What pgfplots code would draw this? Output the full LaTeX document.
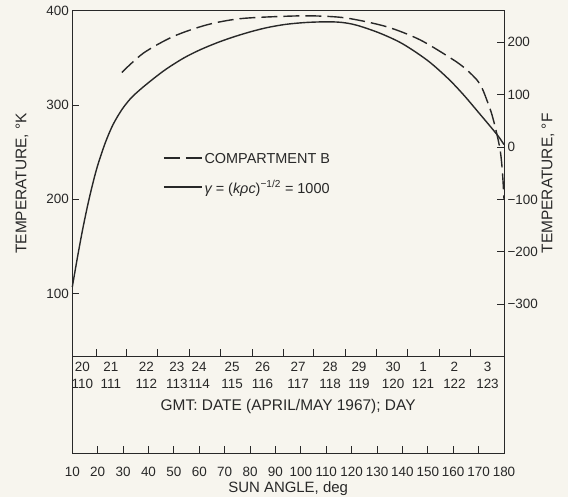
\documentclass[border=0pt]{standalone}
\usepackage{fontspec}
\setmainfont{Liberation Sans}
\usepackage{pgfplots}
\pgfplotsset{compat=1.18}

\definecolor{paper}{RGB}{247,245,238}
\definecolor{ink}{RGB}{40,40,40}

\pgfplotsset{
  panel/.style={
    scale only axis, anchor=south west, width=431.7bp,
    xmin=10, xmax=180, clip=false,
    axis line style={ink, line width=0.9bp},
    tick style={ink, line width=0.9bp},
    tick align=inside, major tick length=7bp,
    /pgf/number format/assume math mode=true,
    tick label style={text=ink, font=\fontsize{13.5}{17}\selectfont},
    label style={text=ink, font=\fontsize{15.5}{17}\selectfont},
  },
}

\begin{document}
\begin{tikzpicture}
\fill[paper] (0bp,0bp) rectangle (568bp,497bp);

% upper panel, kelvin scale, date ticks on its bottom edge
\begin{axis}[panel, at={(72.3bp,141bp)}, height=345.3bp,
  ymin=33.8, ymax=400, ytick={100,200,300,400}, tick pos=left,
  xtick={19.6,31.5,43.7,56.0,68.2,80.8,93.0,104.8,117.4,129.6,141.8,154.4,166.6},
  xticklabels={},
  xticklabel style={align=center, yshift=-3bp},
  extra x ticks={14.0,25.2,39.2,51.2,59.9,72.9,84.9,98.9,111.5,122.9,136.3,148.1,160.5,173.5},
  extra x tick labels={{20\\110},{21\\111},{22\\112},{23\\113},{24\\114},{25\\115},{26\\116},
    {27\\117},{28\\118},{29\\119},{30\\120},{1\\121},{2\\122},{3\\123}},
  extra x tick style={major tick length=0pt},
  xlabel={GMT: DATE (APRIL/MAY 1967); DAY},
  xlabel style={at={(axis description cs:0.5,0)}, anchor=center, yshift=-51bp},
  ylabel={TEMPERATURE, °K},
  ylabel style={at={(axis description cs:-0.1165,0.5)}, anchor=center},
  legend style={at={(axis description cs:0.203,0.5277)}, anchor=west,
    draw=none, fill=none, text=ink, font=\fontsize{14.5}{16}\selectfont,
    row sep=12bp, nodes={inner sep=2bp}},
  legend cell align=left,
  legend image code/.code={\draw[#1] (0bp,0.6bp) -- (38bp,0.6bp);},
]
\addplot[ink, line width=1.4bp, smooth, tension=0.5, dash pattern=on 16bp off 6bp] coordinates {
  (29.5,334.5) (38,355) (49.8,372.7) (63,385) (76,391.5) (93,394) (105,394.5)
  (118,392.2) (133.8,383) (147,369) (160,348) (165,338) (169.3,326.7)
  (171.5,317) (173.2,305.5) (175,292) (176.5,277) (177.7,263) (178.5,252)
  (179.1,238) (179.6,220) (180,200)
};
\addlegendentry{COMPARTMENT B}
\addplot[ink, line width=1.4bp, smooth, tension=0.5] coordinates {
  (10,107) (12,138) (14,167) (16,193) (18,216) (20,236) (23,260) (26,279)
  (29.5,295) (33,307) (37,317) (42,328) (47.2,338.5) (54,350) (60.3,358.5)
  (67,366) (73.3,372) (80,377.5) (86.6,382) (94,385.5) (102,387.5) (110,388.2)
  (116,387.6) (122,384.6) (131,376.3) (140,365) (150,347) (158,328) (164,311)
  (170,292) (175,276) (178,266) (180,258)
};
\addlegendentry{{\itshape γ} = ({\itshape kρc})\textsuperscript{−1/2} = 1000}
\end{axis}

% fahrenheit scale on the right
\begin{axis}[panel, at={(72.3bp,141bp)}, height=345.3bp,
  ymin=-398.83, ymax=260.33, axis x line=none, axis y line*=right,
  ytick={-300,-200,-100,0,100,200},
  yticklabels={−300,−200,−100,0,100,200},
  ylabel={TEMPERATURE, °F},
  ylabel style={at={(axis description cs:1.102,0.5)}, anchor=center},
]
\end{axis}

% lower panel, sun angle
\begin{axis}[panel, at={(72.3bp,43.7bp)}, height=97.3bp,
  ymin=0, ymax=1, ytick=\empty, tick pos=left,
  xtick={10,20,...,180},
  xticklabel style={anchor=center, yshift=-19bp, inner sep=0.5bp},
  xlabel={SUN ANGLE, deg},
  xlabel style={at={(axis description cs:0.5,0)}, anchor=center, yshift=-35bp,
    inner sep=0.5bp, font=\fontsize{15}{17}\selectfont},
]
\end{axis}
\end{tikzpicture}
\end{document}
